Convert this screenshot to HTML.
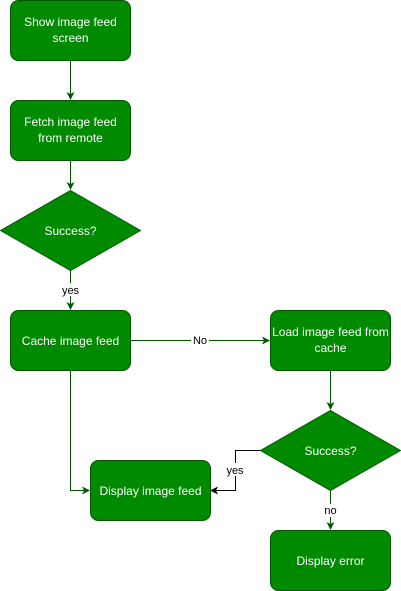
<!DOCTYPE html>
<html><head><style>body{margin:0;background:#fff}svg{display:block}</style></head><body>
<svg width="401" height="591" xmlns="http://www.w3.org/2000/svg" font-family="Liberation Sans, Arial, sans-serif" font-size="12">
<defs>
<marker id="g" markerWidth="10" markerHeight="10" refX="8" refY="5" orient="auto" markerUnits="userSpaceOnUse"><path d="M1,1 L9,5 L1,9 L3,5 Z" fill="#005700"/></marker>
<marker id="k" markerWidth="10" markerHeight="10" refX="8" refY="5" orient="auto" markerUnits="userSpaceOnUse"><path d="M1,1 L9,5 L1,9 L3,5 Z" fill="#000"/></marker>
</defs>
<g fill="none" stroke="#005700" stroke-width="1" marker-end="url(#g)">
<path d="M70.5,60 V99"/>
<path d="M70.5,160 V189"/>
<path d="M70.5,270 V309"/>
<path d="M130,340.5 H269"/>
<path d="M330.5,370 V409"/>
<path d="M70.5,370 V490.5 H89"/>
<path d="M330.5,490 V529"/>
</g>
<path d="M260,450.5 H235.5 V490.5 H211" fill="none" stroke="#000" marker-end="url(#k)"/>
<g fill="#008a00" stroke="#005700">
<rect x="10.5" y="0.5" width="120" height="60" rx="8"/>
<rect x="10.5" y="100.5" width="120" height="60" rx="8"/>
<polygon points="70.5,190.5 140.5,230.5 70.5,270.5 0.5,230.5"/>
<rect x="10.5" y="310.5" width="120" height="60" rx="8"/>
<rect x="270.5" y="310.5" width="120" height="60" rx="8"/>
<polygon points="330.5,410.5 400.5,450.5 330.5,490.5 260.5,450.5"/>
<rect x="90.5" y="460.5" width="120" height="60" rx="8"/>
<rect x="270.5" y="530.5" width="120" height="60" rx="8"/>
</g>
<g fill="#fff" text-anchor="middle">
<text x="70.5" y="26">Show image feed</text><text x="70.5" y="42">screen</text>
<text x="70.5" y="126">Fetch image feed</text><text x="70.5" y="142">from remote</text>
<text x="70.5" y="235">Success?</text>
<text x="70.5" y="345">Cache image feed</text>
<text x="330.5" y="336">Load image feed from</text><text x="330.5" y="352">cache</text>
<text x="330.5" y="455">Success?</text>
<text x="150.5" y="495">Display image feed</text>
<text x="330.5" y="565">Display error</text>
</g>
<g font-size="11" fill="#000" text-anchor="middle">
<rect x="60" y="283" width="22" height="13" fill="#fff"/><text x="70.5" y="294">yes</text>
<rect x="191" y="334" width="18" height="13" fill="#fff"/><text x="200" y="344">No</text>
<rect x="224" y="463" width="22" height="13" fill="#fff"/><text x="235" y="474">yes</text>
<rect x="322" y="504" width="17" height="13" fill="#fff"/><text x="330.5" y="514">no</text>
</g>
</svg>
</body></html>
